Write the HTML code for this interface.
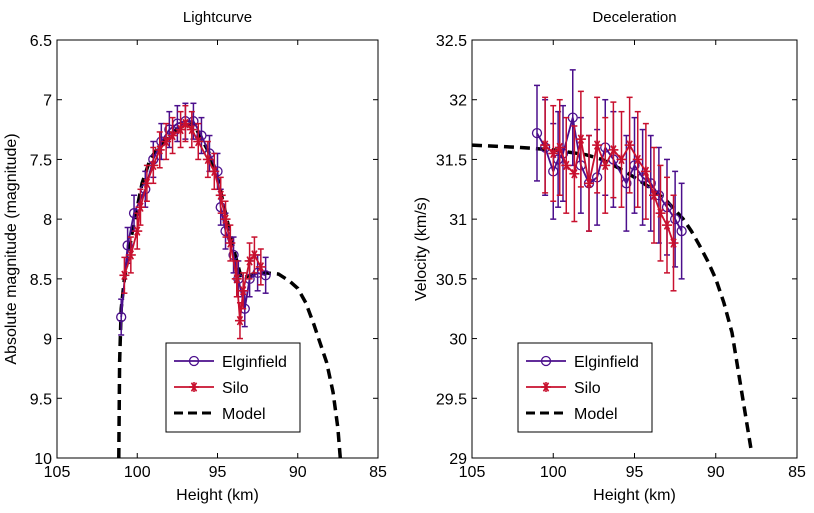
<!DOCTYPE html>
<html><head><meta charset="utf-8"><style>
body{margin:0;background:#fff}
svg{font-family:"Liberation Sans",Arial,sans-serif}
</style></head><body>
<svg id="c" width="814" height="508" xmlns="http://www.w3.org/2000/svg"></svg>
<script>
const lcElgH=[101.0,100.6,100.2,99.5,99.0,98.5,98.0,97.5,97.0,96.5,96.0,95.5,95.0,94.8,94.5,94.0,93.7,93.3,93.0,92.5,92.0];
const lcElgM=[8.82,8.22,7.95,7.75,7.5,7.35,7.25,7.2,7.18,7.18,7.3,7.45,7.6,7.9,8.1,8.3,8.5,8.75,8.5,8.45,8.47];
const lcSiloH=[100.8,100.4,100.0,99.8,99.4,99.0,98.6,98.2,97.8,97.3,97.0,96.6,96.2,95.6,95.2,94.8,94.5,94.2,93.8,93.6,93.4,93.0,92.7,92.3];
const lcSiloM=[8.47,8.3,8.1,7.9,7.7,7.55,7.42,7.35,7.3,7.25,7.2,7.25,7.35,7.5,7.6,7.8,8.0,8.2,8.5,8.85,8.6,8.35,8.3,8.4];
const lcModelH=[101.15,101.1,101.0,100.8,100.3,99.7,99.2,98.8,98.0,97.3,96.5,95.5,95.0,94.5,94.0,93.5,93.0,92.0,91.2,90.5,90.0,89.5,89.0,88.5,88.2,87.8,87.5,87.35];
const lcModelM=[10.0,9.2,8.75,8.5,8.1,7.7,7.5,7.42,7.3,7.22,7.2,7.45,7.65,7.95,8.25,8.5,8.47,8.45,8.46,8.52,8.58,8.7,8.88,9.08,9.2,9.45,9.75,10.0];
const dcElgH=[101.0,100.5,100.0,99.7,99.4,98.8,98.3,97.8,97.3,96.8,96.3,95.5,95.0,94.5,94.0,93.5,93.0,92.5,92.1];
const dcElgV=[31.72,31.6,31.4,31.5,31.55,31.85,31.45,31.3,31.35,31.6,31.5,31.3,31.45,31.35,31.3,31.2,31.1,31.0,30.9];
const dcSiloH=[100.5,100.0,99.6,99.2,98.7,98.3,97.8,97.3,96.8,96.3,95.8,95.3,94.8,94.3,93.8,93.4,93.0,92.6];
const dcSiloV=[31.62,31.55,31.6,31.45,31.38,31.67,31.3,31.62,31.45,31.58,31.5,31.62,31.5,31.4,31.2,31.05,30.95,30.8];
const dcModelH=[105,102,100,98,97,96,95,94,93,92,91.5,91,90.5,90,89.5,89,88.7,88.4,88.1,87.8];
const dcModelV=[31.62,31.6,31.58,31.54,31.5,31.43,31.35,31.26,31.15,31.0,30.9,30.78,30.65,30.5,30.3,30.05,29.8,29.55,29.3,29.05];
const lcXT=[105,100,95,90,85], lcYT=["6.5","7","7.5","8","8.5","9","9.5","10"];
const dcXT=[105,100,95,90,85], dcYT=["32.5","32","31.5","31","30.5","30","29.5","29"];

const S="http://www.w3.org/2000/svg", svg=document.getElementById('c');
function el(t,a,p){const e=document.createElementNS(S,t);for(const k in a)e.setAttribute(k,a[k]);(p||svg).appendChild(e);return e;}
function txt(x,y,s,a,p){const e=el('text',Object.assign({x:x,y:y,'font-size':16,fill:'#000'},a),p);e.textContent=s;return e;}
function star(x,y,col,p){for(const a of [0,60,120]){const r=a*Math.PI/180;el('line',{x1:x-5*Math.cos(r),y1:y-5*Math.sin(r),x2:x+5*Math.cos(r),y2:y+5*Math.sin(r),stroke:col,'stroke-width':1.6},p);}
  el('line',{x1:x,x2:x,y1:y-5,y2:y+5,stroke:col,'stroke-width':1.6},p);}

function panel(o){
  const g=el('g',{});
  
  
  const X=h=>o.x0+(o.h0-h)/(o.h0-o.h1)*(o.x1-o.x0);
  const Y=v=>o.y0+(v-o.v0)/(o.v1-o.v0)*(o.y1-o.y0);
  const clip='cl'+o.name;
  const cp=el('clipPath',{id:clip},g);el('rect',{x:o.x0,y:o.y0,width:o.x1-o.x0,height:o.y1-o.y0},cp);
  const plot=el('g',{'clip-path':'url(#'+clip+')'},g);
  const m=el('polyline',{points:o.mh.map((h,i)=>X(h)+','+Y(o.mv[i])).join(' '),fill:'none',stroke:'#000','stroke-width':3.5,'stroke-dasharray':'10,6'},plot);
  
  function series(hs,vs,col,mk,name){
    const sg=el('g',{},plot);
    
    hs.forEach((h,i)=>{const x=X(h),a=Y(vs[i]-o.err),b=Y(vs[i]+o.err);
      el('line',{x1:x,x2:x,y1:a,y2:b,stroke:col,'stroke-width':1.5},sg);
      el('line',{x1:x-3,x2:x+3,y1:a,y2:a,stroke:col,'stroke-width':1.5},sg);
      el('line',{x1:x-3,x2:x+3,y1:b,y2:b,stroke:col,'stroke-width':1.5},sg);});
    el('polyline',{points:hs.map((h,i)=>X(h)+','+Y(vs[i])).join(' '),fill:'none',stroke:col,'stroke-width':1.8},sg);
    hs.forEach((h,i)=>{const x=X(h),y=Y(vs[i]);
      if(mk==='o')el('circle',{cx:x,cy:y,r:4.5,fill:'none',stroke:col,'stroke-width':1.3},sg);
      else star(x,y,col,sg);});
  }
  series(o.eh,o.ev,'#4b0f8c','o','elginfield-series');
  series(o.sh,o.sv,'#c8102e','*','silo-series');
  const fr=el('rect',{x:o.x0,y:o.y0,width:o.x1-o.x0,height:o.y1-o.y0,fill:'none',stroke:'#000','stroke-width':1},g);
  
  o.xt.forEach(t=>{const x=X(t);el('line',{x1:x,x2:x,y1:o.y1,y2:o.y1-5,stroke:'#000'},g);el('line',{x1:x,x2:x,y1:o.y0,y2:o.y0+5,stroke:'#000'},g);
    const e=txt(x,o.y1+19,String(t),{'text-anchor':'middle'},g);});
  o.yt.forEach(t=>{const y=Y(parseFloat(t));el('line',{x1:o.x0,x2:o.x0+5,y1:y,y2:y,stroke:'#000'},g);el('line',{x1:o.x1,x2:o.x1-5,y1:y,y2:y,stroke:'#000'},g);
    const e=txt(o.x0-5,y+6,t,{'text-anchor':'end'},g);});
  let e=txt((o.x0+o.x1)/2,22,o.title,{'text-anchor':'middle','font-size':15},g);
  e=txt((o.x0+o.x1)/2,500,'Height (km)',{'text-anchor':'middle'},g);
  e=txt(0,0,o.ylab,{'text-anchor':'middle',transform:'translate('+o.yl+','+((o.y0+o.y1)/2)+') rotate(-90)'},g);
  const L=el('g',{},g);
  el('rect',{x:o.lx,y:343,width:134,height:89,fill:'#fff',stroke:'#000'},L);
  const rows=[['Elginfield','#4b0f8c','o'],['Silo','#c8102e','*'],['Model','#000','d']];
  rows.forEach((r,i)=>{const y=361+i*26,x=o.lx+8;
    const le=el('g',{},L);
    if(r[2]==='d')el('line',{x1:x,x2:x+40,y1:y,y2:y,stroke:'#000','stroke-width':3,'stroke-dasharray':'9,5'},le);
    else el('line',{x1:x,x2:x+40,y1:y,y2:y,stroke:r[1],'stroke-width':1.8},le);
    if(r[2]==='o')el('circle',{cx:x+20,cy:y,r:4.5,fill:'none',stroke:r[1],'stroke-width':1.3},le);
    if(r[2]==='*')star(x+20,y,r[1],le);
    txt(x+48,y+6,r[0],{},le);});
}
panel({name:'lightcurve-panel',title:'Lightcurve',ylab:'Absolute magnitude (magnitude)',yl:16,x0:57,x1:378,y0:40,y1:458,h0:105,h1:85,v0:6.5,v1:10,err:0.15,
  eh:lcElgH,ev:lcElgM,sh:lcSiloH,sv:lcSiloM,mh:lcModelH,mv:lcModelM,xt:lcXT,yt:lcYT,lx:166});
panel({name:'deceleration-panel',title:'Deceleration',ylab:'Velocity (km/s)',yl:426,x0:472,x1:797,y0:40,y1:458,h0:105,h1:85,v0:32.5,v1:29,err:0.4,
  eh:dcElgH,ev:dcElgV,sh:dcSiloH,sv:dcSiloV,mh:dcModelH,mv:dcModelV,xt:dcXT,yt:dcYT,lx:518});
</script>
</body></html>
